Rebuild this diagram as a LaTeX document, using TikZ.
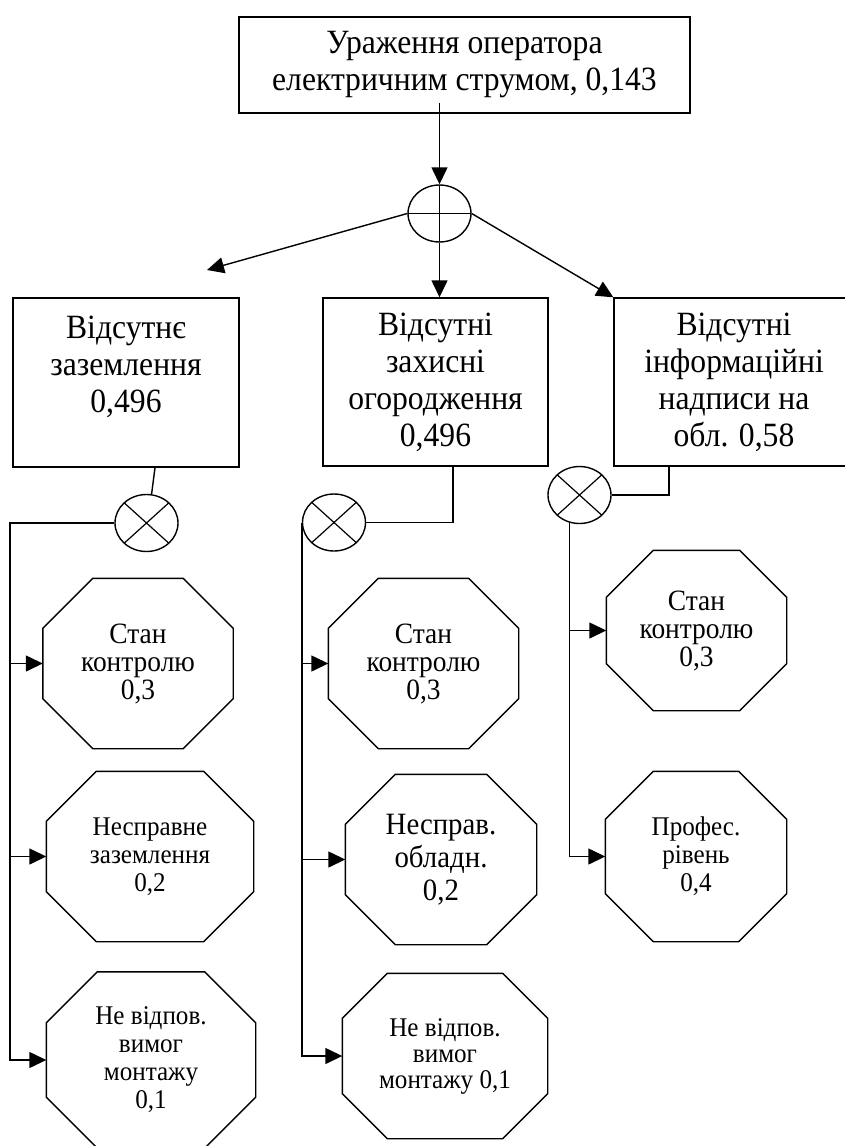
\documentclass[tikz,border=0pt]{standalone}
\usepackage{fontspec}
\setmainfont{Liberation Serif}[FakeStretch=0.93]
\usetikzlibrary{arrows.meta,shapes.geometric}

\tikzset{
  box/.style={draw, rectangle, align=center, inner sep=0pt,
    font=\fontsize{34}{37}\selectfont},
  octa/.style={rectangle, align=center, inner sep=0pt,
    font=\fontsize{27}{28}\selectfont},
  ctrl/.style={octa, font=\fontsize{29.5}{28}\selectfont},
  gate/.style={draw, ellipse, inner sep=0pt, minimum width=63pt, minimum height=57pt},
  orgate/.style={gate, path picture={
    \draw[line width=1.2pt] (path picture bounding box.north) -- (path picture bounding box.south)
      (path picture bounding box.west) -- (path picture bounding box.east);}},
  andgate/.style={gate, path picture={
    \draw[line width=1.2pt] (path picture bounding box.north west) -- (path picture bounding box.south east)
      (path picture bounding box.north east) -- (path picture bounding box.south west);}},
  arr/.style={-{Triangle[length=17pt,width=16pt]}}
}

\begin{document}
\begin{tikzpicture}[x=1pt, y=-1pt, line width=1.4pt]
  \useasboundingbox (0,0) rectangle (845,1146);

  % top event
  \node[box, minimum width=451pt, minimum height=96pt] (top) at (464.5,65)
    {Ураження оператора\\електричним струмом, 0,143};
  \node[orgate] (orp) at (439.5,213.5) {};

  % second level
  \node[box, minimum width=226pt, minimum height=169pt] (bL) at (126,382.5)
    {Відсутнє\\заземлення\\0,496\\~};
  \node[box, minimum width=225pt, minimum height=168pt] (bM) at (435.5,382)
    {Відсутні\\захисні\\огородження\\0,496};
  \node[box, minimum width=240pt, minimum height=168pt] (bR) at (734,382)
    {Відсутні\\інформаційні\\надписи на\\обл. 0,58};

  % and gates
  \node[andgate] (cL) at (146.5,523) {};
  \node[andgate] (cM) at (334,522.5) {};
  \node[andgate] (cR) at (579.5,495) {};

  % basic events (text only, outline drawn below)
  \node[ctrl, minimum width=189pt, minimum height=169pt] (oL1) at (138,663.5)
    {Стан\\контролю\\0,3};
  \node[octa, minimum width=206pt, minimum height=169pt] (oL2) at (150,856.5)
    {Несправне\\заземлення\\0,2};
  \node[octa, minimum width=208pt, minimum height=175pt] (oL3) at (151,1060)
    {Не відпов.\\вимог\\монтажу\\0,1};
  \node[ctrl, minimum width=189pt, minimum height=169pt] (oM1) at (423.5,663.5)
    {Стан\\контролю\\0,3};
  \node[octa, minimum width=190pt, minimum height=169pt,
    font=\fontsize{31}{33}\selectfont] (oM2) at (441,859.5)
    {Неспрaв.\\обладн.\\0,2};
  \node[octa, minimum width=204pt, minimum height=164pt,
    font=\fontsize{27}{26}\selectfont] (oM3) at (445,1056)
    {Не відпов.\\вимог\\монтажу 0,1};
  \node[ctrl, minimum width=179pt, minimum height=159pt] (oR1) at (696.5,630.5)
    {Стан\\контролю\\0,3};
  \node[octa, minimum width=180pt, minimum height=169pt] (oR2) at (696,856.5)
    {Профес.\\рівень\\0,4};

  % octagon outlines
  \foreach \o/\c in {oL1/50pt,oL2/50pt,oL3/51pt,oM1/50pt,oM2/50pt,oM3/45pt,oR1/47pt,oR2/48pt}
    \draw ([xshift=\c]\o.north west) -- ([xshift=-\c]\o.north east)
      -- ([yshift=-\c]\o.north east) -- ([yshift=\c]\o.south east)
      -- ([xshift=-\c]\o.south east) -- ([xshift=\c]\o.south west)
      -- ([yshift=\c]\o.south west) -- ([yshift=-\c]\o.north west) -- cycle;

  % arrows from the top event
  \coordinate (tipL) at (207,270);
  \coordinate (topout) at ([yshift=11pt]top.south);
  \draw[arr] (orp.north |- topout) -- (orp.north);
  \draw[arr] (orp.west) -- (tipL);
  \draw[arr] (orp.south) -- (orp.south |- bM.north);
  \draw[arr] (orp.east) -- (bR.north west);

  % left branch
  \coordinate (vL) at (10,523);
  \draw ([xshift=29pt]bL.south) -- (cL.80);
  \draw[arr] (cL.west) -- (vL) |- (oL3.west);
  \foreach \o in {oL1,oL2}
    \draw[arr] (vL |- \o.west) -- (\o.west);

  % middle branch
  \draw ([xshift=17.5pt]bM.south) |- (cM.east);
  \draw[arr] (cM.west) |- (oM3.west);
  \foreach \o in {oM1,oM2}
    \draw[arr] (cM.west |- \o.west) -- (\o.west);

  % right branch
  \draw ([xshift=-65pt]bR.south) |- (cR.east);
  \draw[arr] (cR.250) |- (oR2.west);
  \draw[arr] (cR.250 |- oR1.west) -- (oR1.west);

\end{tikzpicture}
\end{document}
